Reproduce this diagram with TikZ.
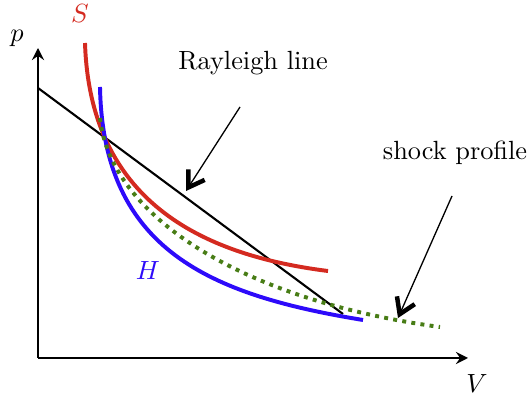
\documentclass[tikz,border=0pt]{standalone}
\usetikzlibrary{arrows.meta}
\definecolor{sred}{RGB}{212,42,32}
\definecolor{hblue}{RGB}{45,10,250}
\definecolor{pgreen}{RGB}{72,125,22}
\begin{document}
\begin{tikzpicture}[x=0.38pt,y=-0.38pt,
  axis/.style={line width=0.8pt,-{Stealth[length=4.6pt,width=4.6pt,inset=1.6pt]}},
  curve/.style={line width=1.5pt},
  pointer/.style={line width=0.5pt,-{Straight Barb[length=5.8pt,width=7.4pt,line width=1.7pt]}},
  lab/.style={inner sep=1pt}]
\useasboundingbox (0,0) rectangle (530,401);
% axes
\coordinate (O) at (38,358);
\coordinate (ytop) at (38,48);
\coordinate (xend) at (468,358);
\draw[axis] (O) -- (ytop);
\draw[axis] (O) -- (xend);
\node[lab] (plab) at (17,38) {$p$};
\node[lab] (vlab) at (477,384) {$V$};
% Rayleigh line
\coordinate (r1) at (38,88);
\coordinate (r2) at (343,314);
\draw[line width=0.8pt] (r1) -- (r2);
% S curve
\draw[curve,sred] (85,43) .. controls (90,200) and (200,255) .. (328,271);
% H curve
\draw[curve,hblue] (100,87) .. controls (103,250) and (210,295) .. (363,320);
% shock profile
\draw[pgreen,line width=1.5pt,dash pattern=on 1.5pt off 2pt] (100,118) .. controls (110,215) and (240,300) .. (440,327);
% labels
\node[lab,text=sred] (slab) at (80,14) {$S$};
\node[lab,text=hblue] (hlab) at (148,271) {$H$};
\node[lab] (rlab) at (253,63) {Rayleigh line};
\node[lab] (splab) at (455,153) {shock profile};
% pointers
\coordinate (ra) at (240,107);
\coordinate (rb) at (186,191);
\draw[pointer] (ra) -- (rb);
\coordinate (sa) at (452,196);
\coordinate (sb) at (398,318);
\draw[pointer] (sa) -- (sb);
\end{tikzpicture}
\end{document}
